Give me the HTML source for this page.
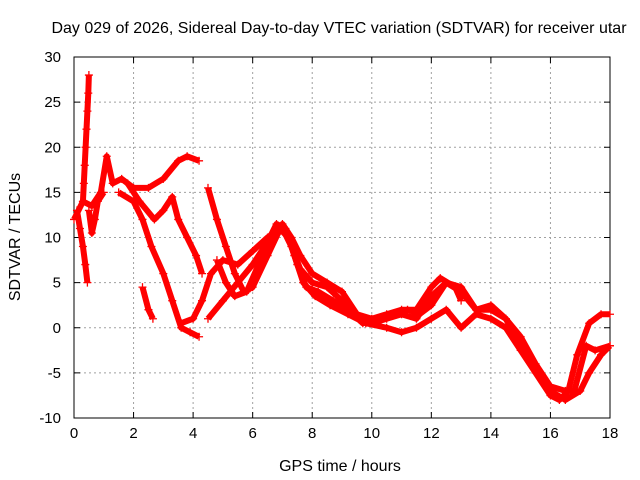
<!DOCTYPE html>
<html><head><meta charset="utf-8"><style>
body{margin:0;background:#fff;}
svg{display:block;font-family:"Liberation Sans",sans-serif;}
</style></head><body>
<svg id="chart" width="640" height="480">
<rect width="640" height="480" fill="#fff"/>
<g id="grid"></g><g id="axes"></g><g id="series"></g>
<text x="339" y="33" text-anchor="middle" font-size="16">Day 029 of 2026, Sidereal Day-to-day VTEC variation (SDTVAR) for receiver utar</text>
<text x="340" y="471" text-anchor="middle" font-size="16">GPS time / hours</text>
<text transform="translate(20,237) rotate(-90)" text-anchor="middle" font-size="16">SDTVAR / TECUs</text>
</svg>
<script>
const xTicks=[0,2,4,6,8,10,12,14,16,18];
const yTicks=[-10,-5,0,5,10,15,20,25,30];
const track1=[[0.3,14],[0.33,16],[0.36,18],[0.39,20],[0.42,22],[0.45,24],[0.48,26],[0.5,28]];
const track2=[[0.1,13],[0.2,11],[0.3,9],[0.38,7],[0.45,5]];
const track3=[[0,12],[0.3,14],[0.6,13.5],[0.9,15],[1.1,19],[1.3,16],[1.6,16.5],[2,15.5],[2.5,15.5],[3,16.5],[3.5,18.5],[3.8,19],[4.2,18.5]];
const track4=[[1.5,15],[2,14],[2.3,12],[2.6,9],[3,6],[3.3,3],[3.6,0],[3.9,-0.5],[4.2,-1]];
const track5=[[1.8,16],[2.2,14],[2.7,12],[3.0,13],[3.3,14.5],[3.5,12],[3.8,10],[4.1,8],[4.3,6]];
const track6=[[2.3,4.5],[2.5,2],[2.65,1]];
const track7=[[4.5,15.5],[4.8,12],[5.1,9],[5.4,6],[5.7,4],[6,4.5],[6.5,8],[7,11.5],[7.3,10],[7.6,8],[8,6],[8.5,5],[9,4],[9.5,1.5],[10,1],[10.5,1.5],[11,2],[11.5,2],[12,4.5],[12.3,5.5],[12.8,4.5],[13,3]];
const track8=[[3.6,0.5],[4,1],[4.3,3],[4.6,6],[5,7.5],[5.5,7],[6,8.5],[6.5,10],[6.9,11],[7.2,10],[7.5,7],[7.8,4.5],[8.2,4],[8.7,3],[9.2,2],[9.7,0.5],[10.2,1],[10.7,1.5],[11.2,2],[11.6,1.5],[12,2.5],[12.5,5],[13,4],[13.5,2],[14,2.5],[14.5,1],[15,-2],[15.5,-4.5],[16,-7],[16.5,-8],[17,-7],[17.3,-5],[17.7,-3],[18,-2]];
const track9=[[4.5,1],[5,3],[5.5,5],[6,7],[6.5,9.5],[6.8,11.5],[7.1,11],[7.4,8],[7.7,5],[8.1,3.5],[8.6,2.5],[9.2,1.5],[9.8,0.5],[10.5,0],[11,-0.5],[11.5,0],[12,1],[12.5,2],[13,0],[13.5,1.5],[14,1],[14.5,0],[15,-2.5],[15.5,-5],[16,-7.5],[16.3,-8],[16.6,-7],[16.9,-3],[17.3,0.5],[17.7,1.5],[18,1.5]];
const track10=[[4.8,7.5],[5.1,5],[5.4,3.5],[5.8,4],[6.2,7],[6.7,10],[7.0,11],[7.3,9],[7.6,6.5],[8,5],[8.5,4.5],[9,3],[9.5,1.5],[10,0.5],[10.5,1],[11,1.5],[11.5,1],[12,3.5],[12.5,5],[13.0,4.5],[13.5,2],[14,2],[14.5,1],[15,-1],[15.5,-4],[16,-6.5],[16.5,-7],[16.8,-7],[17.2,-2],[17.5,-2.5],[18,-2]];
const track11=[[0.5,13],[0.6,10.5],[0.7,12],[0.8,14],[1.0,15]];
const tracks=[track1,track2,track3,track4,track5,track6,track7,track8,track9,track10,track11];

const L=74,R=610,T=57,B=418;
const xs=v=>L+(v-0)/(18-0)*(R-L);
const ys=v=>B-(v+10)/(40)*(B-T);
const NS="http://www.w3.org/2000/svg";
function mk(t,a,p){const e=document.createElementNS(NS,t);for(const k in a)e.setAttribute(k,a[k]);p.appendChild(e);return e;}
const grid=document.getElementById('grid'),axes=document.getElementById('axes'),ser=document.getElementById('series');
xTicks.forEach(t=>{const x=xs(t);
 if(t>0&&t<18){const g=mk('line',{x1:x,x2:x,y1:T,y2:B,stroke:'#a0a0a0','stroke-dasharray':'2,3'},grid);
 
 }
 mk('line',{x1:x,x2:x,y1:B,y2:B-6,stroke:'#000'},axes);mk('line',{x1:x,x2:x,y1:T,y2:T+6,stroke:'#000'},axes);
 const l=mk('text',{x:x,y:B+20,'text-anchor':'middle','font-size':15},axes);l.textContent=t;
 
 
});
yTicks.forEach(t=>{const y=ys(t);
 if(t>-10&&t<30){const g=mk('line',{x1:L,x2:R,y1:y,y2:y,stroke:'#a0a0a0','stroke-dasharray':'2,3'},grid);
 
 }
 mk('line',{x1:L,x2:L+6,y1:y,y2:y,stroke:'#000'},axes);mk('line',{x1:R,x2:R-6,y1:y,y2:y,stroke:'#000'},axes);
 const l=mk('text',{x:L-13,y:y+5,'text-anchor':'end','font-size':15},axes);l.textContent=t;
 
 
});
const fr=mk('rect',{x:L,y:T,width:R-L,height:B-T,fill:'none',stroke:'#000'},axes);


tracks.forEach((tr,i)=>{
 const g=mk('g',{},ser);
 
 
 mk('polyline',{points:tr.map(p=>xs(p[0])+','+ys(p[1])).join(' '),fill:'none',stroke:'#f00','stroke-width':6,'stroke-linejoin':'round'},g);
 tr.forEach(p=>{const x=xs(p[0]),y=ys(p[1]);
  mk('path',{d:`M${x-4},${y}H${x+4}M${x},${y-4}V${y+4}`,stroke:'#f00','stroke-width':1.3},g);});
});
</script>
</body></html>
